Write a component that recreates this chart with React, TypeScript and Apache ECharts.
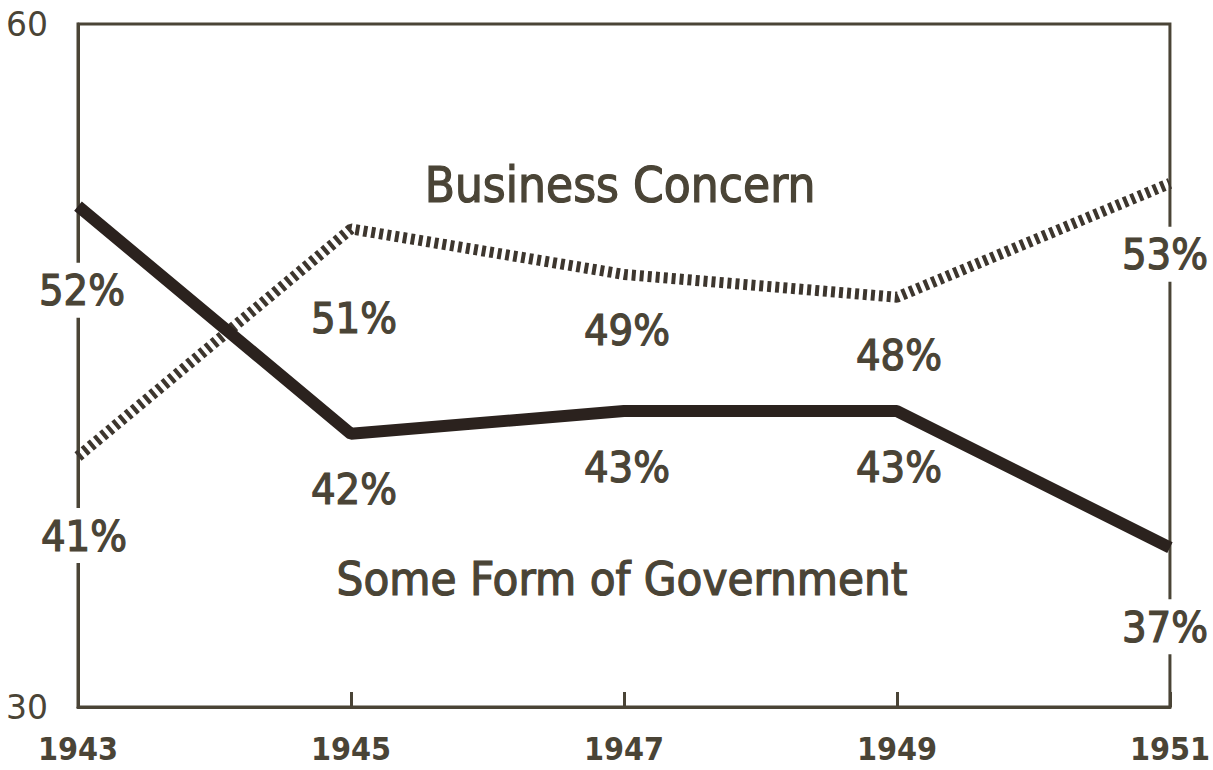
import React, { useEffect, useRef } from "react";
import * as echarts from "echarts";

const years = ["1943", "1945", "1947", "1949", "1951"];
const businessConcern = [41, 51, 49, 48, 53];
const someFormOfGovernment = [52, 42, 43, 43, 37];
const businessName = "Business Concern";
const governmentName = "Some Form of Government";

// label offsets (layout only)
const businessOffsets = [[6, 79], [3, 89], [3, 56], [2, 58], [-5, 71]];
const governmentOffsets = [[4, 84], [3, 55], [3, 56], [2, 56], [-5, 79]];

const INK = "#4a4436";
const FONT = "'DejaVu Sans Condensed', sans-serif";

export default function App() {
  const ref = useRef<HTMLDivElement>(null);
  useEffect(() => {
    if (!ref.current) return;
    const chart = echarts.init(ref.current, undefined, { renderer: "svg" });
    const labelStyle = (i: number) => ({
      show: true,
      position: "inside",
      formatter: "{c}%",
      fontFamily: FONT,
      fontSize: 43,
      color: INK,
      textBorderColor: INK,
      textBorderWidth: 1.2,
      align: "center",
      verticalAlign: "middle",
      backgroundColor: i === 0 || i === years.length - 1 ? "#ffffff" : "transparent",
      padding: [6, 0],
    });
    chart.setOption({
      animation: false,
      backgroundColor: "#ffffff",
      grid: {
        left: 78,
        right: 43,
        top: 24,
        bottom: 63,
        show: true,
        borderColor: INK,
        borderWidth: 3,
      },
      xAxis: {
        type: "category",
        data: years,
        boundaryGap: false,
        axisLine: { lineStyle: { color: INK, width: 3 } },
        axisTick: { inside: true, length: 15, lineStyle: { color: INK, width: 3 }, alignWithLabel: true },
        axisLabel: {
          color: INK,
          fontFamily: FONT,
          fontWeight: "bold",
          fontSize: 32,
          margin: 26,
        },
        splitLine: { show: false },
      },
      yAxis: {
        type: "value",
        min: 30,
        max: 60,
        interval: 30,
        axisLine: { show: true, lineStyle: { color: INK, width: 3 } },
        axisTick: { show: false },
        splitLine: { show: false },
        axisLabel: {
          color: INK,
          fontFamily: "'DejaVu Sans', sans-serif",
          fontSize: 33,
          margin: 30,
        },
      },
      series: [
        {
          name: businessName,
          type: "line",
          z: 3,
          symbol: "circle",
          symbolSize: 1,
          itemStyle: { color: "rgba(0,0,0,0)" },
          lineStyle: { color: "#3d362e", width: 11, type: [4, 4] },
          data: businessConcern.map((v, i) => ({
            value: v,
            label: { ...labelStyle(i), offset: businessOffsets[i] },
          })),
        },
        {
          name: governmentName,
          type: "line",
          z: 4,
          symbol: "circle",
          symbolSize: 1,
          itemStyle: { color: "rgba(0,0,0,0)" },
          lineStyle: { color: "#2b221e", width: 12 },
          data: someFormOfGovernment.map((v, i) => ({
            value: v,
            label: { ...labelStyle(i), offset: governmentOffsets[i] },
          })),
        },
      ],
      graphic: [
        {
          type: "text",
          x: 620,
          y: 185,
          style: {
            text: businessName,
            fontFamily: FONT,
            fontSize: 49,
            fill: INK,
            stroke: INK,
            lineWidth: 1.2,
            align: "center",
            verticalAlign: "middle",
          },
        },
        {
          type: "text",
          x: 622,
          y: 578,
          style: {
            text: governmentName,
            fontFamily: FONT,
            fontSize: 47,
            fill: INK,
            stroke: INK,
            lineWidth: 1.2,
            align: "center",
            verticalAlign: "middle",
          },
        },
      ],
    });
    return () => chart.dispose();
  }, []);
  return (
    <div
      ref={ref}
      style={{ position: "fixed", left: 0, top: 0, width: 1213, height: 770, background: "#fff" }}
    />
  );
}
